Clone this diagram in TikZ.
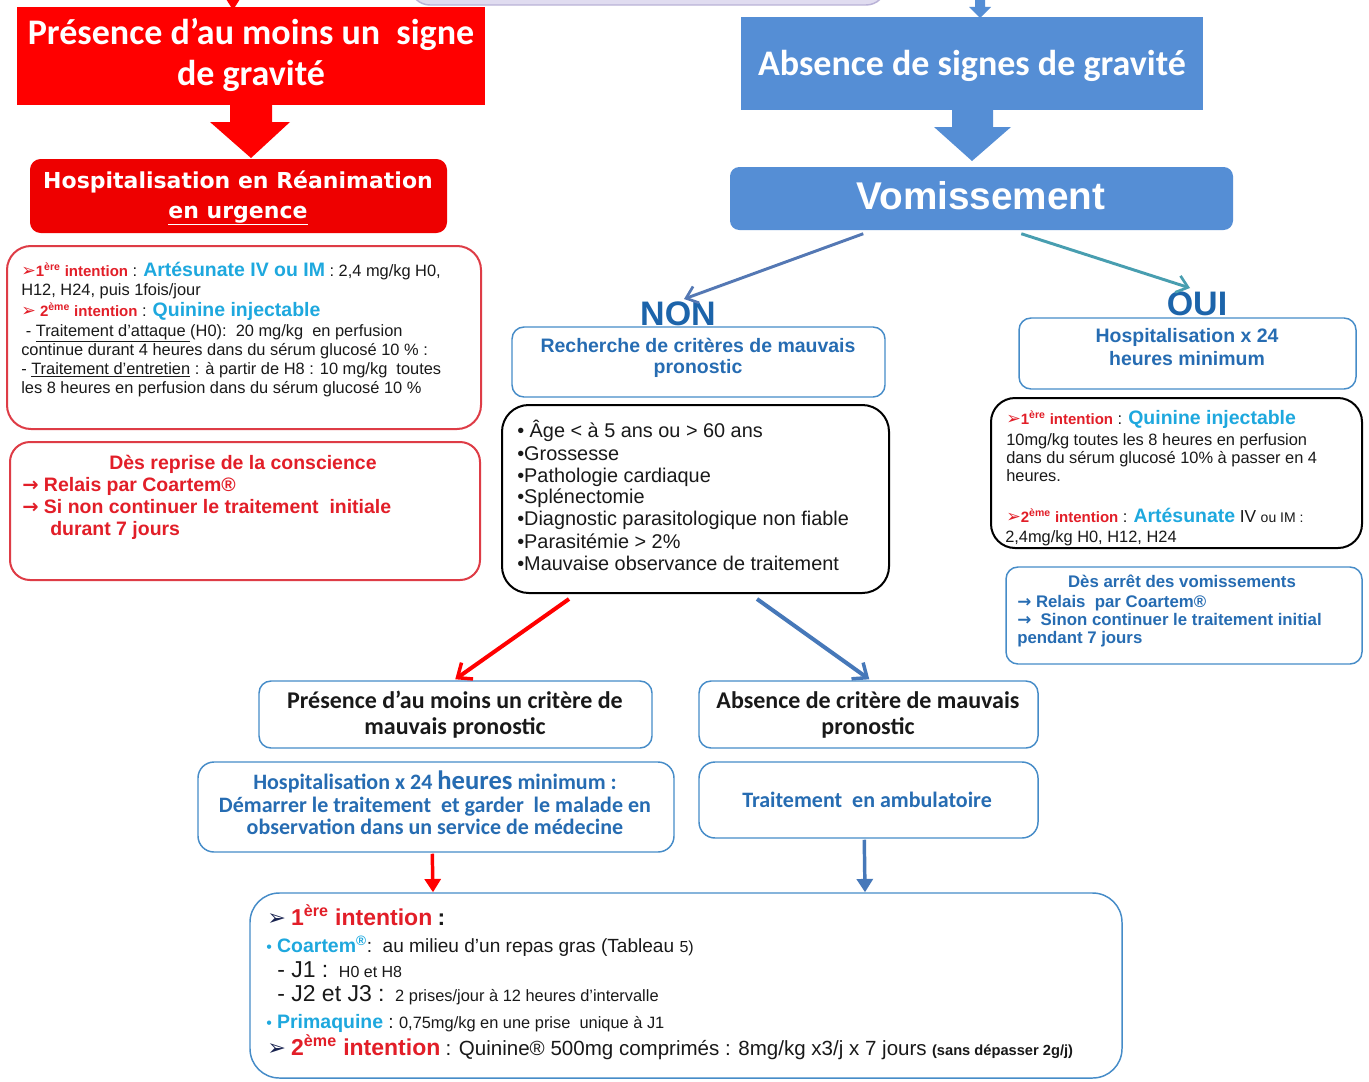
\documentclass[tikz,border=0pt]{standalone}
\usepackage{fontspec}
\usepackage{graphicx}
\setmainfont{Liberation Sans}
\newfontfamily\carl{Carlito}
\newfontfamily\djv{DejaVu Sans}
\usetikzlibrary{arrows.meta,fit,calc}
\definecolor{redfill}{RGB}{255,0,0}
\definecolor{redfillb}{RGB}{238,0,0}
\definecolor{bfill}{RGB}{85,142,213}
\definecolor{lav}{RGB}{224,220,240}
\definecolor{lavb}{RGB}{185,178,215}
\definecolor{redb}{RGB}{222,60,70}
\definecolor{bluebd}{RGB}{70,140,200}
\definecolor{bluet}{RGB}{38,108,178}
\definecolor{nont}{RGB}{28,100,170}
\definecolor{cyant}{RGB}{30,168,222}
\definecolor{redt}{RGB}{226,30,40}
\definecolor{navy}{RGB}{25,35,80}
\definecolor{txt}{RGB}{25,25,25}
\definecolor{arrb}{RGB}{84,120,180}
\definecolor{arrt}{RGB}{72,158,176}
\definecolor{arrb2}{RGB}{70,120,185}
\newcommand\fsz[1]{\fontsize{#1}{#1}\selectfont}
\newcommand\tip[1]{{\djv\bfseries\fontsize{#1}{#1}\selectfont\scalebox{1.45}{➢}}}
\begin{document}
\begin{tikzpicture}[x=0.75pt,y=-0.75pt,
  tl/.style={anchor=base west,inner sep=0,text=txt},
  tc/.style={anchor=base,inner sep=0,text=txt},
  box/.style={inner sep=0,line width=1.1pt},
  bbox/.style={box,draw=bluebd,rounded corners=9pt},
  kbox/.style={box,draw=black,line width=1.5pt},
  rbox/.style={box,draw=redb,line width=1.5pt},
  barb/.style={line width=2.2pt,-{Straight Barb[length=8pt,width=13pt,line width=2pt]}},
  barbB/.style={line width=3pt,-{Straight Barb[length=9pt,width=15pt,line width=2.6pt]}},
  vtri/.style={line width=2.6pt,-{Triangle[length=10pt,width=12pt]}},
]
\useasboundingbox (0,0) rectangle (1369,1081);
\fill[white] (0,0) rectangle (1369,1081);

% ---- boxes ----
\node[fit={(410,-40) (886,5)}, box, draw=lavb, fill=lav, rounded corners=15pt] (topbox) {};
\node[fit={(17,7) (485,105)}, box, fill=redfill] (grav) {};
\node[fit={(30,159) (447,233)}, box, fill=redfillb, rounded corners=8pt] (rea) {};
\node[fit={(7,246) (481,429)}, rbox, rounded corners=18pt] (lb1) {};
\node[fit={(10,442) (480,580)}, rbox, rounded corners=15pt] (lb2) {};
\node[fit={(741,17) (1203,110)}, box, fill=bfill] (absg) {};
\node[fit={(730,167) (1233,230)}, box, fill=bfill, rounded corners=7pt] (vomi) {};
\node[fit={(512,327) (885,397)}, bbox] (nonbox) {};
\node[fit={(502,405) (889,593)}, kbox, rounded corners=20pt] (crit) {};
\node[fit={(1019,318) (1356,389)}, bbox] (ouibox) {};
\node[fit={(991,398) (1362,548)}, kbox, rounded corners=18pt] (rb2) {};
\node[fit={(1006,567) (1362,664)}, bbox] (rb3) {};
\node[fit={(259,681) (652,748)}, bbox] (pres) {};
\node[fit={(699,681) (1038,748)}, bbox] (absc) {};
\node[fit={(198,762) (674,852)}, bbox, rounded corners=12pt] (hosp) {};
\node[fit={(699,762) (1038,838)}, bbox, rounded corners=12pt] (amb) {};
\node[fit={(250,893) (1122,1078)}, bbox, rounded corners=22pt] (bot) {};

% ---- block arrows ----
\fill[redfill] (226,-1) -- (240,-1) -- (233,10) -- cycle;
\fill[bfill] (975,-1) -- (985,-1) -- (985,7) -- (991,7) -- (980,18) -- (969,7) -- (975,7) -- cycle;
\fill[redfill] (230,104) -- (272,104) -- (272,122) -- (290,122) -- (251,158) -- (210,122) -- (230,122) -- cycle;
\fill[bfill] (952,109) -- (993,109) -- (993,127) -- (1011,127) -- (972,161) -- (934,127) -- (952,127) -- cycle;

% ---- titles ----
\node[tc, text=white, font=\carl\bfseries\fsz{27}] (g1) at (251,45) {Présence d’au moins un\ \ signe};
\node[tc, text=white, font=\carl\bfseries\fsz{27}] (g2) at (251,85) {de gravité};
\node[tc, text=white, font=\djv\bfseries\fsz{16.5}] (r1) at (238,188) {Hospitalisation en Réanimation};
\node[tc, text=white, font=\djv\bfseries\fsz{16.5}] (r2) at (238,218) {\underline{en urgence}};
\node[tc, text=white, font=\carl\bfseries\fsz{27}] (a1) at (972,75) {Absence de signes de gravité};
\node[tc, text=white, font=\bfseries\fsz{29}] (v1) at (981,209) {Vomissement};

% ---- left box 1 ----
\begin{scope}[every node/.style={tl, font=\fsz{12.3}}]
\node (l11) at (21,276) {{\color{redt}\bfseries\fsz{11.25}\tip{9}1\textsuperscript{ère} intention} : {\color{cyant}\bfseries\fsz{14.6}Artésunate IV ou IM} : 2,4 mg/kg H0,};
\node (l12) at (21,295) {H12, H24, puis 1fois/jour};
\node (l13) at (21,316) {{\color{redt}\bfseries\fsz{11.25}\tip{9} 2\textsuperscript{ème} intention} : {\color{cyant}\bfseries\fsz{14.6}Quinine injectable}};
\node (l14) at (21,336) {\ - \underline{Traitement d’attaque }(H0):\ \ 20 mg/kg\ \ en perfusion};
\node (l15) at (21,355) {continue durant 4 heures dans du sérum glucosé 10 \% :};
\node (l16) at (21,374) {- \underline{Traitement d’entretien} : à partir de H8 : 10 mg/kg\ \ toutes};
\node (l17) at (21,393) {les 8 heures en perfusion dans du sérum glucosé 10 \%};
\end{scope}

% ---- left box 2 ----
\begin{scope}[every node/.style={tl, text=redt, font=\bfseries\fsz{14.6}}]
\node[tc, text=redt] (l21) at (243,469) {Dès reprise de la conscience};
\node (l22) at (22,491) {{\djv →} Relais par Coartem®};
\node (l23) at (22,513) {{\djv →} Si non continuer le traitement\ \ initiale};
\node (l24) at (50,535) {durant 7 jours};
\end{scope}

% ---- NON / OUI ----
\node[tc, text=nont, font=\bfseries\fsz{25.5}] (nontxt) at (678,325) {NON};
\node[tc, text=nont, font=\bfseries\fsz{25.5}] (ouitxt) at (1197,315) {OUI};
\node[tc, text=bluet, font=\bfseries\fsz{14.6}] (n1) at (698,352) {Recherche de critères de mauvais};
\node[tc, text=bluet, font=\bfseries\fsz{14.6}] (n2) at (698,373) {pronostic};
\node[tc, text=bluet, font=\bfseries\fsz{14.6}] (o1) at (1187,342) {Hospitalisation x 24};
\node[tc, text=bluet, font=\bfseries\fsz{14.6}] (o2) at (1187,365) {heures minimum};

% ---- criteria ----
\begin{scope}[every node/.style={tl, font=\fsz{14.9}}]
\node (c1) at (517,437) {• Âge < à 5 ans ou > 60 ans};
\node (c2) at (517,460) {•Grossesse};
\node (c3) at (517,482) {•Pathologie cardiaque};
\node (c4) at (517,503) {•Splénectomie};
\node (c5) at (517,525) {•Diagnostic parasitologique non fiable};
\node (c6) at (517,548) {•Parasitémie > 2\%};
\node (c7) at (517,570) {•Mauvaise observance de traitement};
\end{scope}

% ---- right box 2 ----
\begin{scope}[every node/.style={tl, font=\fsz{12.3}}]
\node (q1) at (1006,424) {{\color{redt}\bfseries\fsz{11.25}\tip{9}1\textsuperscript{ère} intention} : {\color{cyant}\bfseries\fsz{14.6}Quinine injectable}};
\node (q2) at (1006,445) {10mg/kg toutes les 8 heures en perfusion};
\node (q3) at (1006,463) {dans du sérum glucosé 10\% à passer en 4};
\node (q4) at (1006,481) {heures.};
\node (q5) at (1006,522) {{\color{redt}\bfseries\fsz{11.25}\tip{9}2\textsuperscript{ème} intention} : {\color{cyant}\bfseries\fsz{14.6}Artésunate} {\fsz{13}IV} {\fsz{10.5}ou IM :}};
\node (q6) at (1005,542) {2,4mg/kg H0, H12, H24};
\end{scope}

% ---- right box 3 ----
\begin{scope}[every node/.style={tl, text=bluet, font=\bfseries\fsz{12.6}}]
\node[tc, text=bluet] (s1) at (1182,587) {Dès arrêt des vomissements};
\node (s2) at (1017,607) {{\djv →} Relais\ \ par Coartem®};
\node (s3) at (1017,625) {{\djv →}\ \ Sinon continuer le traitement initial};
\node (s4) at (1017,643) {pendant 7 jours};
\end{scope}

% ---- lower boxes ----
\node[tc, font=\carl\bfseries\fsz{18}] (p1) at (455,708) {Présence d’au moins un critère de};
\node[tc, font=\carl\bfseries\fsz{18}] (p2) at (455,734) {mauvais pronostic};
\node[tc, font=\carl\bfseries\fsz{18}] (b1) at (868,708) {Absence de critère de mauvais};
\node[tc, font=\carl\bfseries\fsz{18}] (b2) at (868,734) {pronostic};
\node[tc, text=bluet, font=\carl\bfseries\fsz{16.5}] (h1) at (435,789) {Hospitalisation x 24 {\fsz{20}heures} minimum :};
\node[tc, text=bluet, font=\carl\bfseries\fsz{16.5}] (h2) at (435,812) {Démarrer le traitement\ \ et garder\ \ le malade en};
\node[tc, text=bluet, font=\carl\bfseries\fsz{16.5}] (h3) at (435,834) {observation dans un service de médecine};
\node[tc, text=bluet, font=\carl\bfseries\fsz{16.5}] (am1) at (867,807) {Traitement\ \ en ambulatoire};

% ---- bottom box ----
\begin{scope}[every node/.style={tl, font=\fsz{14.3}}]
\node (t1) at (267,925) {{\color{navy}\tip{11.5}}\ {\color{redt}\bfseries\fsz{17.25}1\textsuperscript{ère} intention}\ {\bfseries\fsz{17.25}:}};
\node (t2) at (266,952) {{\color{cyant}\fsz{12}•}\ {\color{cyant}\bfseries\fsz{14.6}Coartem\textsuperscript{®}}:\ \ au milieu d’un repas gras (Tableau {\fsz{12}5)}};
\node (t3) at (277,977) {{\fsz{17.25}- J1 :}\ \ {\fsz{12}H0 et H8}};
\node (t4) at (277,1001) {{\fsz{17.25}- J2 et J3 :}\ \ {\fsz{12.3}2 prises/jour à 12 heures d’intervalle}};
\node (t5) at (266,1028) {{\color{cyant}\fsz{12}•}\ {\color{cyant}\bfseries\fsz{14.6}Primaquine}\ :\ {\fsz{12.3}0,75mg/kg en une prise\ \ unique à J1}};
\node (t6) at (267,1055) {{\color{navy}\tip{11.5}}\ {\color{redt}\bfseries\fsz{17.25}2\textsuperscript{ème} intention}\ {\fsz{15.4}: Quinine® 500mg comprimés : 8mg/kg x3/j x 7 jours} {\bfseries\fsz{11}(sans dépasser 2g/j)}};
\end{scope}

% ---- connectors ----
\coordinate (vA) at ($(vomi.south west)+(134,3)$);
\coordinate (vB) at ($(vomi.south west)+(292,3)$);
\coordinate (nonTip) at ($(nontxt.north)+(6,-2)$);
\coordinate (ouiTip) at ($(ouitxt.north)+(-7,-3)$);
\draw[barb, arrb] (vA) -- (nonTip);
\draw[barb, arrt] (vB) -- (ouiTip);
\draw[barbB, red] ($(crit.south west)+(68,5)$) -- ($(pres.north west)+(197,-1)$);
\draw[barbB, arrb2] ($(crit.south west)+(256,5)$) -- ($(absc.north west)+(171,-1)$);
\draw[vtri, red] ($(hosp.south west)+(235,1)$) -- (bot.north -| 433,0);
\draw[vtri, arrb2] ($(amb.south west)+(166,1)$) -- (bot.north -| 865,0);
\end{tikzpicture}
\end{document}
